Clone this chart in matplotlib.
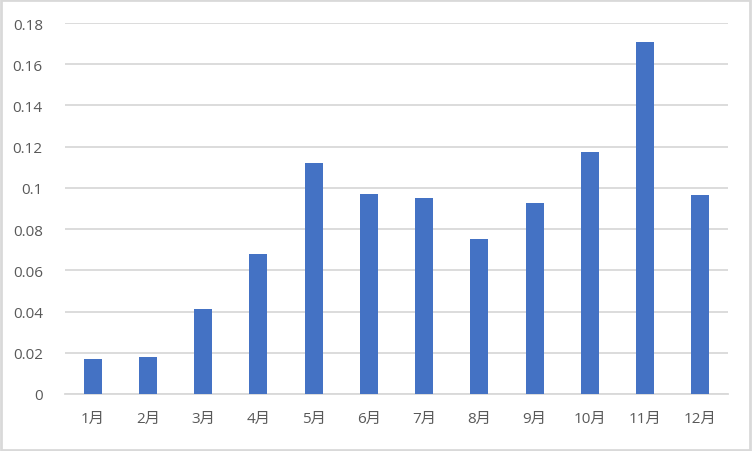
import matplotlib.pyplot as plt
from matplotlib.patches import Rectangle
from matplotlib.ticker import FuncFormatter

plt.rcParams['font.family'] = ['Open Sans', 'Noto Sans CJK SC', 'DejaVu Sans']

# Data
months = ["1月", "2月", "3月", "4月", "5月", "6月", "7月", "8月", "9月", "10月", "11月", "12月"]
values = [0.0170, 0.0180, 0.0412, 0.0679, 0.1121, 0.0970,
          0.0951, 0.0752, 0.0927, 0.1174, 0.1708, 0.0966]
y_ticks = [0, 0.02, 0.04, 0.06, 0.08, 0.1, 0.12, 0.14, 0.16, 0.18]

fig = plt.figure(figsize=(7.52, 4.52), dpi=100)
ax = fig.add_axes([65 / 752, (452 - 395) / 452, (728 - 65) / 752, (395 - 24) / 452])

x = range(len(months))
ax.bar(x, values, width=0.33, color="#4472C4", zorder=3)

ax.set_xlim(-0.5, len(months) - 0.5)
ax.set_ylim(0, 0.18)
ax.set_yticks(y_ticks)
ax.yaxis.set_major_formatter(FuncFormatter(lambda v, p: f"{v:g}"))
ax.set_xticks(list(x))
ax.set_xticklabels(months)

ax.grid(axis="y", color="#d9d9d9", linewidth=1.3, zorder=0)
for side in ["top", "right", "left"]:
    ax.spines[side].set_visible(False)
ax.spines["bottom"].set_color("#d9d9d9")
ax.spines["bottom"].set_linewidth(1.3)
ax.tick_params(axis="both", length=0, labelsize=11, labelcolor="#595959")
ax.tick_params(axis="y", pad=16)
ax.tick_params(axis="x", pad=12)

# light frame round the chart
fig.patches.append(Rectangle((0.001, 0.002), 0.997, 0.995, transform=fig.transFigure,
                             fill=False, edgecolor="#d9d9d9", linewidth=2))

fig.savefig("out.png", dpi=100)
